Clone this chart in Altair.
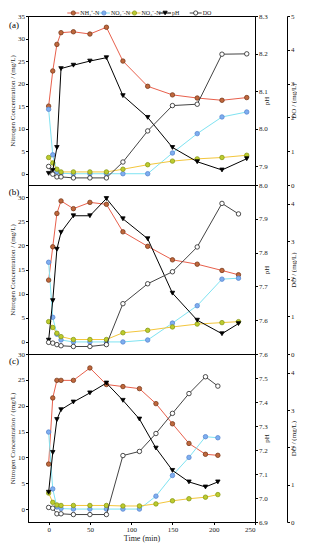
import altair as alt
import pandas as pd

# ---------------- data ----------------
series_names = ["NH₄⁺-N", "NO₂⁻-N", "NO₃⁻-N", "pH", "DO"]
line_colors = ["#e8604c", "#7fe3f2", "#f3c63c", "#000000", "#444444"]
marker_fill = ["#c0683c", "#7eaef0", "#bccc2e", "#000000", "#ffffff"]
marker_stroke = ["#7a3a1c", "#5a88d0", "#8a9a18", "#000000", "#222222"]
marker_shapes = ["circle", "circle", "circle", "triangle-down", "circle"]

ta = [0, 5, 10, 15, 30, 50, 70, 90, 120, 150, 180, 210, 240]
a_nh4 = [15.0, 22.8, 28.7, 31.3, 31.5, 31.0, 32.5, 25.0, 19.4, 17.5, 16.8, 16.3, 16.9]
a_no2 = [14.3, 4.2, 0.4, 0.1, 0.0, 0.0, 0.0, 0.0, 0.0, 4.6, 8.9, 12.6, 13.7]
a_no3 = [3.6, 2.4, 1.0, 0.4, 0.4, 0.4, 0.4, 1.0, 2.0, 2.8, 3.3, 3.6, 4.1]
a_ph = [7.881, 7.889, 7.950, 8.160, 8.169, 8.180, 8.189, 8.088, 8.030, 7.950, 7.912, 7.890, 7.920]
a_do = [0.55, 0.32, 0.24, 0.24, 0.21, 0.21, 0.21, 0.68, 1.60, 2.35, 2.39, 3.87, 3.88]

tb = [0, 5, 10, 15, 30, 50, 70, 90, 120, 150, 180, 210, 230]
b_nh4 = [12.8, 19.7, 26.6, 29.2, 27.6, 28.9, 28.5, 22.8, 19.8, 17.0, 16.1, 14.8, 13.9]
b_no2 = [16.5, 5.1, 1.6, 0.4, 0.0, 0.0, 0.0, 0.0, 0.4, 3.9, 7.5, 13.0, 13.2]
b_no3 = [4.2, 3.0, 1.8, 1.1, 0.5, 0.5, 0.5, 1.9, 2.4, 3.1, 3.7, 4.0, 4.2]
b_ph = [7.541, 7.658, 7.810, 7.860, 7.909, 7.909, 7.960, 7.900, 7.841, 7.680, 7.600, 7.560, 7.590]
b_do = [0.31, 0.29, 0.25, 0.22, 0.20, 0.20, 0.25, 1.34, 1.87, 2.19, 2.85, 4.01, 3.73]

tc = [0, 5, 10, 15, 30, 50, 70, 90, 110, 130, 150, 170, 190, 205]
c_nh4 = [8.7, 21.5, 24.9, 24.9, 24.9, 27.3, 24.1, 23.7, 23.3, 20.4, 16.5, 12.7, 10.6, 10.4]
c_no2 = [14.9, 3.9, 0.4, 0.1, 0.0, 0.0, 0.0, 0.0, 0.0, 2.5, 6.5, 10.0, 14.0, 13.8]
c_no3 = [3.1, 1.3, 0.8, 0.7, 0.7, 0.7, 0.7, 0.6, 0.6, 1.0, 1.6, 2.0, 2.3, 2.8]
c_ph = [7.024, 7.190, 7.327, 7.368, 7.400, 7.438, 7.479, 7.407, 7.329, 7.208, 7.115, 7.067, 7.046, 7.067]
c_do = [0.39, 0.37, 0.22, 0.22, 0.20, 0.20, 0.20, 1.78, 1.89, 2.37, 2.91, 3.44, 3.89, 3.64]

x_ticks = [0, 50, 100, 150, 200, 250]

FONT = "Liberation Serif"
W = 227

color_scale = alt.Scale(domain=series_names, range=line_colors)
fill_scale = alt.Scale(domain=series_names, range=marker_fill)
stroke_scale = alt.Scale(domain=series_names, range=marker_stroke)
shape_scale = alt.Scale(domain=series_names, range=marker_shapes)
frame_view = alt.ViewBackground(stroke="black", strokeWidth=1)


def frame(t, names, cols):
    rows = []
    for name, vals in zip(names, cols):
        for ti, v in zip(t, vals):
            rows.append({"t": ti, "s": name, "v": v})
    return pd.DataFrame(rows)


def sub_layer(df, yenc, xenc):
    line = alt.Chart(df).mark_line(strokeWidth=1).encode(
        x=xenc, y=yenc,
        color=alt.Color("s:N", scale=color_scale, legend=None),
    )
    pts = alt.Chart(df).mark_point(filled=True, size=20, strokeWidth=0.8, opacity=1).encode(
        x=xenc, y=yenc,
        fill=alt.Fill("s:N", scale=fill_scale, legend=None),
        stroke=alt.Stroke("s:N", scale=stroke_scale, legend=None),
        shape=alt.Shape("s:N", scale=shape_scale, legend=None),
    )
    return line, pts


def panel(t, nh4, no2, no3, ph, do, n_dom, n_vals, ph_dom, ph_vals, do_dom, do_vals,
          label, label_y, h, bottom):
    if bottom:
        xaxis = alt.Axis(values=x_ticks, title="Time (min)", titleFontSize=8, labelFontSize=7,
                         tickSize=2.5, labelPadding=1, titlePadding=2, grid=False)
    else:
        xaxis = None
    xenc = alt.X("t:Q", scale=alt.Scale(domain=[-25, 250], nice=False, zero=False), axis=xaxis)

    ndf = frame(t, series_names[:3], [nh4, no2, no3])
    ny = alt.Y("v:Q", scale=alt.Scale(domain=n_dom, nice=False, zero=False),
               axis=alt.Axis(orient="left", values=n_vals, title="Nitrogen Concentration / (mg/L)",
                             grid=False))
    nl, np_ = sub_layer(ndf, ny, xenc)
    lab = alt.Chart(pd.DataFrame({"lab": [label]})).mark_text(
        font=FONT, fontSize=9, align="center", baseline="middle", color="black"
    ).encode(text="lab:N", x=alt.value(-14), y=alt.value(label_y))
    nlayer = alt.layer(nl, np_, lab)

    pdf = frame(t, ["pH"], [ph])
    py = alt.Y("v:Q", scale=alt.Scale(domain=ph_dom, nice=False, zero=False),
               axis=alt.Axis(orient="right", values=ph_vals, format=".1f", title="pH",
                             titleAngle=270, grid=False))
    pl, pp = sub_layer(pdf, py, xenc)
    player = alt.layer(pl, pp)

    ddf = frame(t, ["DO"], [do])
    dy = alt.Y("v:Q", scale=alt.Scale(domain=do_dom, nice=False, zero=False),
               axis=alt.Axis(orient="right", offset=32, values=do_vals, format="d",
                             title="DO / (mg/L)", titleAngle=270, grid=False))
    dl, dp = sub_layer(ddf, dy, xenc)
    dlayer = alt.layer(dl, dp)

    return alt.layer(nlayer, player, dlayer).resolve_scale(y="independent").properties(
        width=W, height=h, view=frame_view)


# ---------------- legend row ----------------
leg_df = pd.DataFrame({"s": series_names})
lx = alt.X("s:N", sort=series_names,
           scale=alt.Scale(domain=series_names, range=[30, 183], paddingOuter=0, padding=0),
           axis=None)
leg_line = alt.Chart(leg_df).mark_rule(strokeWidth=1, xOffset=-6, x2Offset=6).encode(
    x=lx, x2=alt.X2("s"), y=alt.value(3),
    color=alt.Color("s:N", scale=color_scale, legend=None),
)
leg_pts = alt.Chart(leg_df).mark_point(filled=True, size=18, strokeWidth=0.8, opacity=1).encode(
    x=lx, y=alt.value(3),
    fill=alt.Fill("s:N", scale=fill_scale, legend=None),
    stroke=alt.Stroke("s:N", scale=stroke_scale, legend=None),
    shape=alt.Shape("s:N", scale=shape_scale, legend=None),
)
leg_txt = alt.Chart(leg_df).mark_text(font=FONT, fontSize=6, align="left", baseline="middle",
                                       dx=7, color="#222").encode(
    x=lx, y=alt.value(3), text="s:N")
legend_row = alt.layer(leg_line, leg_pts, leg_txt).properties(
    width=W, height=6, view=alt.ViewBackground(stroke="transparent"))

pa = panel(ta, a_nh4, a_no2, a_no3, a_ph, a_do, [-2.5, 35], [0, 5, 10, 15, 20, 25, 30, 35],
           [7.85, 8.3], [7.9, 8.0, 8.1, 8.2, 8.3], [0, 5], [0, 1, 2, 3, 4, 5], "(a)", 9, 169, False)
pb = panel(tb, b_nh4, b_no2, b_no3, b_ph, b_do, [-2.5, 32.5], [0, 5, 10, 15, 20, 25, 30],
           [7.5, 8.0], [7.6, 7.7, 7.8, 7.9, 8.0], [0, 4.5], [0, 1, 2, 3, 4], "(b)", 7, 169, False)
pc = panel(tc, c_nh4, c_no2, c_no3, c_ph, c_do, [-2.5, 30], [0, 5, 10, 15, 20, 25, 30],
           [6.9, 7.6], [6.9, 7.0, 7.1, 7.2, 7.3, 7.4, 7.5, 7.6], [0, 4.5], [0, 1, 2, 3, 4],
           "(c)", 7, 168, True)

chart = alt.vconcat(legend_row, pa, pb, pc, spacing=0, bounds="flush").properties(
    padding={"left": 0, "top": 0, "right": 0, "bottom": 0}
).configure_view(stroke=None).configure_axis(
    labelFont=FONT, titleFont=FONT, labelFontSize=7, titleFontSize=7, titleFontWeight="normal",
    labelColor="#222", titleColor="#222", domainColor="black", tickColor="black",
    tickSize=2.5, labelPadding=1, titlePadding=2,
).configure_concat(spacing=0)

chart.save("out.html", embed_options={"renderer": "svg", "actions": False})
